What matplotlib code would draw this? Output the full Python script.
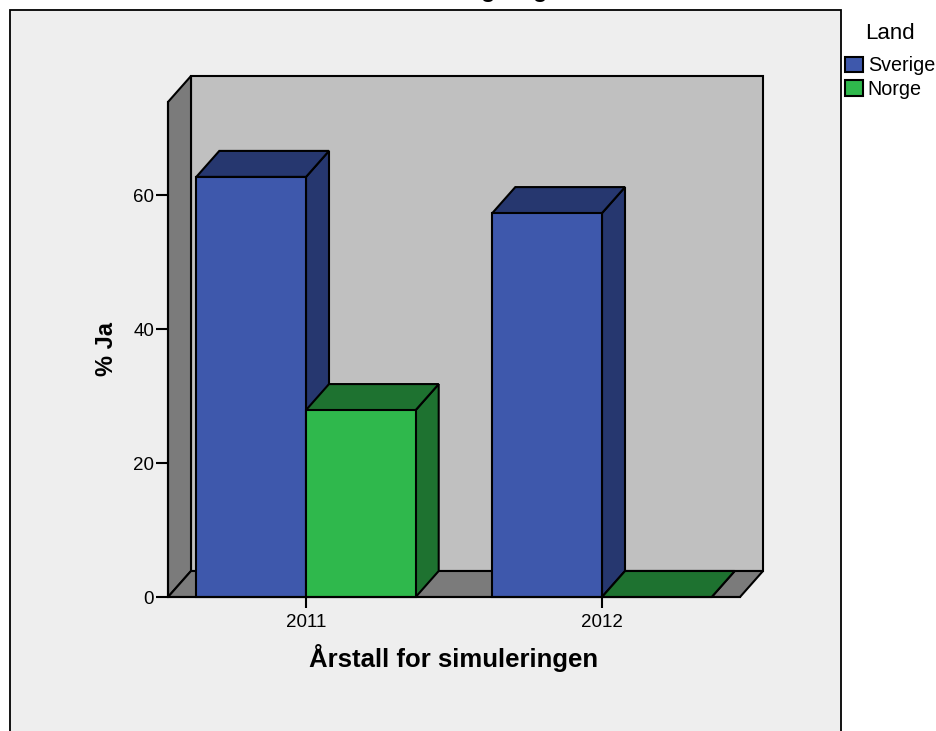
import matplotlib
matplotlib.use('Agg')
import matplotlib.pyplot as plt
from matplotlib.patches import Polygon, Rectangle

plt.rcParams['font.family'] = ['Liberation Sans', 'DejaVu Sans']

years = ['2011', '2012']
sverige = [62.7, 57.3]
norge = [27.9, 0.0]
y_ticks = [0, 20, 40, 60]

colors = {'Sverige': ('#3E58AC', '#26376F'), 'Norge': ('#2FB84C', '#1E7230')}

W, H = 937, 731
fig = plt.figure(figsize=(W / 100, H / 100), dpi=100, facecolor='white')

# grey panel round the chart, bottom edge runs off the picture
fig.add_artist(Rectangle((10 / W, -0.02), 831 / W, 1.02 - 10 / H, transform=fig.transFigure,
                         fc='#EEEEEE', ec='black', lw=1.3, zorder=-1))

ax = fig.add_axes([168 / W, (H - 597) / H, 572 / W, 495 / H])
ax.patch.set_visible(False)

xmin, xmax = -138 / 296, 434 / 296
ymin, ymax = 0, 495 / 6.7
ax.set_xlim(xmin, xmax)
ax.set_ylim(ymin, ymax)

# depth of the fake 3d, in data units
dx = 23 / 296
dy = 26 / 6.7
bar_w = 109.7 / 296
LW = 1.5


def poly(pts, fc):
    ax.add_patch(Polygon(pts, closed=True, fc=fc, ec='black', lw=LW, clip_on=False, joinstyle='miter'))


def box(x0, x1, h, front, dark):
    poly([(x1, 0), (x1 + dx, dy), (x1 + dx, h + dy), (x1, h)], dark)
    poly([(x0, h), (x0 + dx, h + dy), (x1 + dx, h + dy), (x1, h)], dark)
    if h > 0:
        poly([(x0, 0), (x1, 0), (x1, h), (x0, h)], front)


# walls
poly([(xmin + dx, dy), (xmax + dx, dy), (xmax + dx, ymax + dy), (xmin + dx, ymax + dy)], '#C0C0C0')
poly([(xmin, 0), (xmin + dx, dy), (xmin + dx, ymax + dy), (xmin, ymax)], '#7B7B7B')
poly([(xmin, 0), (xmin + dx, dy), (xmax + dx, dy), (xmax, 0)], '#7B7B7B')

for i in range(len(years)):
    box(i - bar_w, i, sverige[i], *colors['Sverige'])
    box(i, i + bar_w, norge[i], *colors['Norge'])

for s in ['top', 'right']:
    ax.spines[s].set_visible(False)
for s in ['left', 'bottom']:
    ax.spines[s].set_linewidth(LW)

ax.set_xticks(range(len(years)))
ax.set_xticklabels(years)
ax.set_yticks(y_ticks)
ax.tick_params(axis='x', length=8, width=LW, labelsize=13.5, pad=4.5)
ax.tick_params(axis='y', length=9, width=LW, labelsize=13.5, pad=1)

ax.set_xlabel('Årstall for simuleringen', fontsize=18.5, fontweight='bold', labelpad=9)
ax.set_ylabel('% Ja', fontsize=17, fontweight='bold', labelpad=11)

handles = [Rectangle((0, 0), 1, 1, fc=colors[k][0], ec='black', lw=LW) for k in colors]
leg = fig.legend(handles, list(colors), title='Land', loc='upper left',
                 bbox_to_anchor=(845 / W, 1 - 23 / H), frameon=False, fontsize=14.2,
                 title_fontsize=16, handlelength=0.9, handleheight=0.85, handletextpad=0.25,
                 labelspacing=0.22, borderpad=0, borderaxespad=0)
leg._legend_box.sep = 8.9

# only the bottoms of the cut off title show above the panel
for px in [488, 540]:
    fig.text(px / W, 1 + 9 / H, 'g', ha='center', va='center', fontsize=17, fontweight='bold')

fig.savefig('out.png', dpi=100, facecolor='white')
